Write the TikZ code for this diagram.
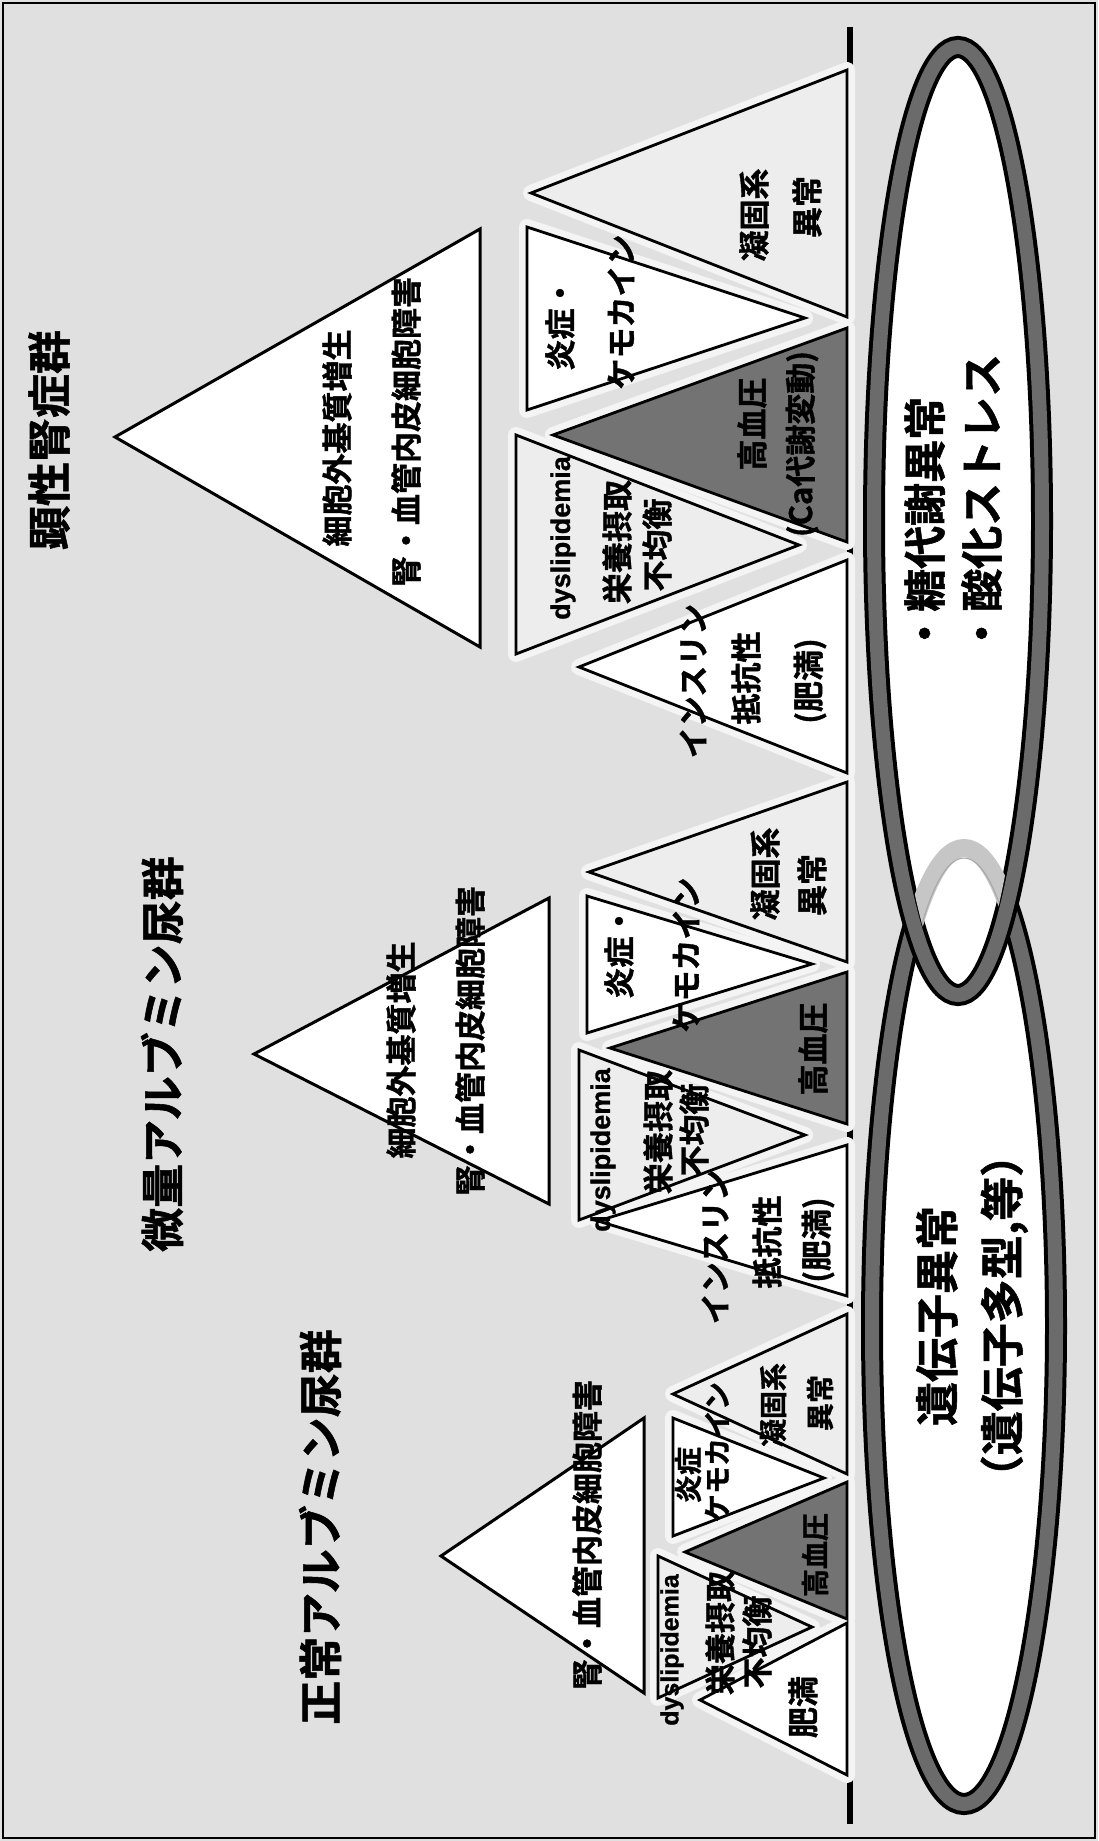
\documentclass[tikz,border=0pt]{standalone}
\usepackage{fontspec}
\newfontfamily\jp{Noto Sans CJK JP}[BoldFont={* Bold}, BoldFeatures={FakeBold=1.2}]
\newfontfamily\latf{Liberation Sans}[BoldFeatures={FakeBold=1}]
\colorlet{bgc}{gray!24}
\colorlet{lgt}{gray!14}
\colorlet{drk}{black!55}
\colorlet{haloc}{gray!9}
\colorlet{rimc}{black!58}
\begin{document}
\begin{tikzpicture}[x=1pt,y=-1pt,
  ttl/.style={rotate=90, inner sep=0pt, font={\jp\bfseries\fontsize{44}{50}\selectfont}},
  lb/.style={rotate=90, inner sep=0pt, font={\jp\bfseries\fontsize{31}{36}\selectfont}},
  lbs/.style={rotate=90, inner sep=0pt, font={\jp\bfseries\fontsize{28}{32}\selectfont}},
  lat/.style={rotate=90, inner sep=0pt, font={\latf\bfseries\fontsize{27}{30}\selectfont}},
  latS/.style={rotate=90, inner sep=0pt, font={\latf\bfseries\fontsize{25}{28}\selectfont}},
  elltxt/.style={rotate=90, inner sep=0pt, font={\jp\bfseries\fontsize{43}{57}\selectfont}},
  tri/.style={draw=black, line width=2.8pt, line join=miter},
  halo/.style={draw=haloc, line width=16pt, line join=round},
  bigtri/.style={draw=black, line width=3pt, fill=white, line join=miter},
  rimout/.style={draw=black, line width=22pt},
  rimin/.style={draw=rimc, line width=14pt},
  faint/.style={draw=gray!45, line width=18pt}
]
\useasboundingbox (0,0) rectangle (1098,1841);
% background and frame
\fill[bgc] (0,0) rectangle (1098,1841);
\draw[line width=2.5pt] (3,3) rectangle (1095,1838);

% ellipses
\fill[white] (964,1326) ellipse [x radius=92, y radius=478];
\draw[rimout] (964,1326) ellipse [x radius=92, y radius=478];
\draw[rimin] (964,1326) ellipse [x radius=92, y radius=478];
\fill[white] (958,521) ellipse [x radius=84, y radius=474];
\draw[rimout] (958,521) ellipse [x radius=84, y radius=474];
\draw[rimin] (958,521) ellipse [x radius=84, y radius=474];
\begin{scope}
  \clip (958,521) ellipse [x radius=73, y radius=463];
  \draw[faint] (964,1326) ellipse [x radius=92, y radius=478];
  \draw[draw=gray!70, line width=1pt] (964,1326) ellipse [x radius=82, y radius=468];
\end{scope}

% baseline
\draw[line width=6pt] (850,27) -- (850,1824);

% big triangles
\draw[bigtri] (480,229) -- (115,437) -- (480,647) -- cycle;
\draw[bigtri] (549,898) -- (254,1054) -- (549,1204) -- cycle;
\draw[bigtri] (644,1418) -- (441,1556) -- (644,1693) -- cycle;

% lower rows of triangles
\def\lowtris{847/70/317/531/193/lgt, 527/227/410/805/318/white, 847/328/542/553/435/drk,
  516/435/654/799/545/lgt, 847/560/773/579/667/white,
  847/782/962/589/872/lgt, 587/896/1033/812/964/white, 847/972/1124/610/1048/drk,
  579/1050/1220/805/1135/lgt, 847/1145/1296/598/1221/white,
  847/1314/1474/673/1394/lgt, 673/1418/1536/824/1478/white, 847/1482/1619/685/1552/drk,
  658/1556/1698/812/1627/lgt, 847/1623/1775/700/1700/white}
\foreach \bx/\ya/\yb/\ax/\ay/\c in \lowtris {
  \draw[halo] (\bx,\ya) -- (\ax,\ay) -- (\bx,\yb) -- cycle;
}
\foreach \bx/\ya/\yb/\ax/\ay/\c in \lowtris {
  \draw[tri, fill=\c] (\bx,\ya) -- (\ax,\ay) -- (\bx,\yb) -- cycle;
}

% titles
\node[ttl] (kT) at (49,440) {顕性腎症群};
\node[ttl] (mT) at (162,1054) {微量アルブミン尿群};
\node[ttl] (nT) at (320,1527) {正常アルブミン尿群};

% overt nephropathy group
\node[lb] (kB1) at (337,438) {細胞外基質増生};
\node[lb] (kB2) at (406,432) {腎・血管内皮細胞障害};
\node[lb] (kG1) at (754,215) {凝固系};
\node[lb] (kG2) at (807,207) {異常};
\node[lb] (kE1) at (560,324) {炎症・};
\node[lb] (kE2) at (621,312) {ケモカイン};
\node[lb] (kH1) at (752,424) {高血圧};
\node[lb] (kH2) at (802,444) {(Ca代謝変動)};
\node[lat] (kD1) at (563,538) {dyslipidemia};
\node[lb] (kD2) at (617,542) {栄養摂取};
\node[lb] (kD3) at (657,545) {不均衡};
\node[lb] (kI1) at (693,681) {インスリン};
\node[lb] (kI2) at (746,678) {抵抗性};
\node[lb] (kI3) at (810,681) {(肥満)};

% microalbuminuria group
\node[lb] (mB1) at (401,1050) {細胞外基質増生};
\node[lb] (mB2) at (470,1041) {腎・血管内皮細胞障害};
\node[lb] (mG1) at (765,874) {凝固系};
\node[lb] (mG2) at (812,885) {異常};
\node[lb] (mE1) at (619,952) {炎症・};
\node[lb] (mE2) at (686,955) {ケモカイン};
\node[lb] (mH1) at (813,1049) {高血圧};
\node[lat] (mD1) at (603,1150) {dyslipidemia};
\node[lb] (mD2) at (658,1132) {栄養摂取};
\node[lb] (mD3) at (694,1130) {不均衡};
\node[lb] (mI1) at (715,1247) {インスリン};
\node[lb] (mI2) at (767,1242) {抵抗性};
\node[lb] (mI3) at (818,1240) {(肥満)};

% normoalbuminuria group
\node[lb] (nB) at (587,1535) {腎・血管内皮細胞障害};
\node[lbs] (nG1) at (773,1405) {凝固系};
\node[lbs] (nG2) at (820,1403) {異常};
\node[lbs] (nE1) at (688,1475) {炎症};
\node[lbs] (nE2) at (717,1452) {ケモカイン};
\node[lbs] (nH) at (815,1555) {高血圧};
\node[latS] (nD1) at (672,1650) {dyslipidemia};
\node[lb] (nD2) at (720,1633) {栄養摂取};
\node[lb] (nD3) at (757,1642) {不均衡};
\node[lb] (nF) at (803,1707) {肥満};

% ellipse texts
\node[elltxt, anchor=west, align=left] (eU) at (953,655) {・糖代謝異常\\・酸化ストレス};
\node[rotate=90, inner sep=0pt, align=center, font={\jp\bfseries\fontsize{44}{65}\selectfont}] (eL) at (972,1316) {遺伝子異常\\（遺伝子多型,等）};
\end{tikzpicture}
\end{document}
